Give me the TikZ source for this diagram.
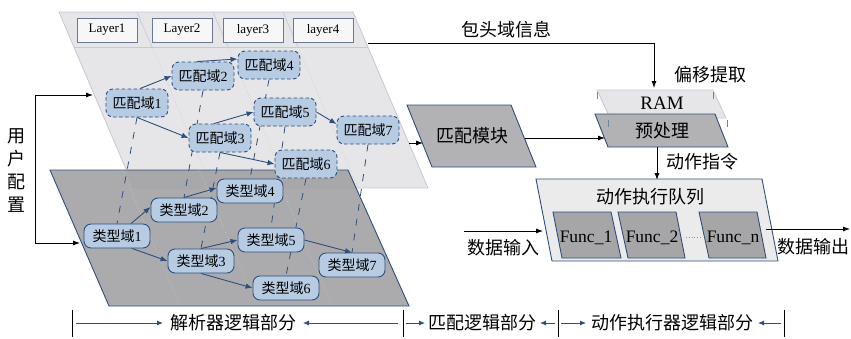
\documentclass[tikz,border=0pt]{standalone}
\usepackage{fontspec}
\setmainfont{Liberation Serif}
\newfontfamily\cjk{Noto Sans CJK SC}
\usetikzlibrary{arrows.meta,calc}
\newcommand\zh[1]{{\cjk #1}}
\definecolor{planeL}{HTML}{E6E6E8}
\definecolor{planeLb}{HTML}{C6C8D6}
\definecolor{planeD}{HTML}{A2A2A4}
\definecolor{bdr}{HTML}{2E4F7E}
\definecolor{nodefill}{HTML}{B7CBE3}
\definecolor{modfill}{HTML}{B2B2B5}
\definecolor{funcfill}{HTML}{A6A6A8}
\definecolor{queuefill}{HTML}{EBEBEB}
\definecolor{layerbdr}{HTML}{6A7895}
\pgfdeclarelayer{bg}
\pgfsetlayers{bg,main}
\begin{document}
\begin{tikzpicture}[x=1pt,y=-1pt,
  lbl/.style={font=\fontsize{18}{22}\selectfont\cjk, inner sep=0pt},
  mnode/.style={draw=bdr, fill=nodefill, rounded corners=7pt, dash pattern=on 3.5pt off 2.5pt, line width=0.9pt, minimum width=62pt, minimum height=28pt, inner sep=0pt, font=\fontsize{14}{16}\selectfont},
  tnode/.style={draw=bdr, fill=nodefill, rounded corners=7pt, line width=0.9pt, minimum width=66pt, minimum height=24pt, inner sep=0pt, font=\fontsize{14}{16}\selectfont},
  layerbox/.style={draw=layerbdr, fill=white!94!gray, line width=0.7pt, minimum width=60pt, minimum height=24pt, inner sep=0pt, font=\fontsize{13}{15}\selectfont},
  flow/.style={draw=bdr, line width=0.9pt, -{Latex[length=7pt,width=5.5pt]}},
  link/.style={draw=bdr, line width=0.8pt, dash pattern=on 7pt off 8pt},
  blk/.style={draw=black, line width=0.8pt, -{Latex[length=7pt,width=5pt]}},
  bflow/.style={draw=bdr, line width=0.8pt, -{Latex[length=6pt,width=5pt]}},
  plain/.style={draw=black, line width=0.8pt},
  divl/.style={draw=planeLb, line width=0.6pt, dotted},
  tick/.style={draw=bdr!70, line width=0.8pt},
  func/.style={font=\fontsize{17.5}{20}\selectfont, inner sep=0pt, anchor=base}
]
\useasboundingbox (0,0) rectangle (851,338);

\begin{pgfonlayer}{bg}
% light plane
\filldraw[fill=planeL, draw=planeLb, line width=0.8pt] (59,12) -- (353,12) -- (428,188) -- (134,188) -- cycle;
\draw[planeLb, line width=0.7pt] (74,47) -- (368,47);
\draw[planeLb, line width=0.6pt] (137,12) -- (152,47);
\draw[planeLb, line width=0.6pt] (213,12) -- (228,47);
\draw[planeLb, line width=0.6pt] (283,12) -- (298,47);
\draw[divl] (152,47) -- (212,188);
\draw[divl] (228,47) -- (288,188);
\draw[divl] (298,47) -- (358,188);
% dark plane
\filldraw[fill=planeD, fill opacity=0.9, draw=bdr, line width=0.9pt] (50,170) -- (348,170) -- (409,306) -- (109,306) -- cycle;
\draw[draw=gray!40, line width=0.6pt, dotted] (122,170) -- (180,306);
\draw[draw=gray!40, line width=0.6pt, dotted] (199,170) -- (257,306);
\draw[draw=gray!40, line width=0.6pt, dotted] (274,170) -- (332,306);
\end{pgfonlayer}

% layer boxes
\node[layerbox] (L1) at (107,30) {Layer1};
\node[layerbox] (L2) at (182,30) {Layer2};
\node[layerbox] (L3) at (253,30) {layer3};
\node[layerbox] (L4) at (323,30) {layer4};

% match nodes
\node[mnode] (m1) at (137,103) {\zh{匹配域}1};
\node[mnode] (m2) at (203,76) {\zh{匹配域}2};
\node[mnode] (m4) at (269,65) {\zh{匹配域}4};
\node[mnode] (m5) at (285,112) {\zh{匹配域}5};
\node[mnode] (m3) at (220,138) {\zh{匹配域}3};
\node[mnode] (m7) at (368,130) {\zh{匹配域}7};
\node[mnode] (m6) at (306,164) {\zh{匹配域}6};

% type nodes
\node[tnode] (t1) at (117,236) {\zh{类型域}1};
\node[tnode] (t2) at (184,210) {\zh{类型域}2};
\node[tnode] (t4) at (250,191) {\zh{类型域}4};
\node[tnode] (t5) at (271,240) {\zh{类型域}5};
\node[tnode] (t3) at (201,261) {\zh{类型域}3};
\node[tnode] (t7) at (352,265) {\zh{类型域}7};
\node[tnode] (t6) at (286,288) {\zh{类型域}6};

\begin{pgfonlayer}{bg}
\foreach \i in {1,...,7} {\draw[link] (m\i.south) -- (t\i.north);}
\end{pgfonlayer}

% match arrows
\draw[flow] ($(m1.north)+(3,0)$) -- (m2.west);
\draw[flow] ($(m2.north)+(-6,0)$) -- ($(m4.west)+(0,-6)$);
\draw[flow] (m1.south) -- (m3.west);
\draw[flow] ($(m3.north)+(-6,0)$) -- (m5.west);
\draw[flow] (m3.south) -- (m6.west);
\draw[flow] (m5.east) -- ($(m7.west)+(0,-6)$);

% type arrows
\draw[flow] ($(t1.north)+(14,0)$) -- ($(t2.west)+(0,-3)$);
\draw[flow] (t2.north) -- ($(t4.west)+(0,-3)$);
\draw[flow] ($(t1.south)+(15,0)$) -- (t3.west);
\draw[flow] (t3.north) -- (t5.west);
\draw[flow] (t3.south) -- (t6.west);
\draw[flow] (t5.east) -- (t7.north);

% user config
\node[lbl, align=center, font=\fontsize{18}{23}\selectfont\cjk] (user) at (17,171) {用\\户\\配\\置};
\coordinate (ua) at (35,95);
\coordinate (ub) at (35,243);
\coordinate (uaE) at (93,95);
\coordinate (ubE) at (80,243);
\draw[plain] (ua) -- (ub);
\draw[blk] (ua) -- (uaE);
\draw[blk] (ub) -- (ubE);

% match module
\filldraw[fill=modfill, draw=bdr, line width=0.9pt] (407,105) -- (511,105) -- (536,167) -- (432,167) -- cycle;
\node[lbl] (mod) at (472,136) {匹配模块};
\coordinate (planeR) at (409,143);
\coordinate (modL) at (423,143);
\draw[blk] (planeR) -- (modL);

% header info line
\coordinate (hdr) at (368,43);
\coordinate (hdrC) at (654,43);
\coordinate (ramT) at (654,88);
\draw[blk] (hdr) -- (hdrC) -- (ramT);
\node[lbl] (hinfo) at (506,30) {包头域信息};
\node[lbl] (offs) at (710,75) {偏移提取};

% RAM and preprocess
\filldraw[fill=planeL, draw=planeLb, line width=0.8pt] (597,90) -- (713,90) -- (726,118) -- (610,118) -- cycle;
\node[font=\fontsize{19}{22}\selectfont, inner sep=0pt] (ram) at (662,103) {RAM};
\filldraw[fill=modfill, draw=bdr, line width=0.9pt] (595,114) -- (715,114) -- (728,147) -- (608,147) -- cycle;
\node[lbl] (pre) at (662,131) {预处理};
\draw[tick] (597,92) -- (597,99);
\draw[tick] (713,92) -- (713,99);
\draw[tick] (608,120) -- (608,127);
\draw[tick] (727,120) -- (727,127);
\coordinate (modR) at (525,138);
\coordinate (preL) at (605,138);
\draw[blk] (modR) -- (preL);

% action instruction
\coordinate (preB) at (657,147);
\coordinate (qT) at (657,180);
\draw[blk] (preB) -- (qT);
\node[lbl] (act) at (702,162) {动作指令};

% action queue
\filldraw[fill=queuefill, draw=bdr, line width=0.9pt] (536,179) -- (762,179) -- (778,261) -- (552,261) -- cycle;
\node[lbl] (queue) at (650,197) {动作执行队列};
\filldraw[fill=funcfill, draw=bdr, line width=0.9pt] (553,212) -- (611,212) -- (621,258) -- (562,258) -- cycle;
\filldraw[fill=funcfill, draw=bdr, line width=0.9pt] (618,212) -- (676,212) -- (685,258) -- (628,258) -- cycle;
\filldraw[fill=funcfill, draw=bdr, line width=0.9pt] (699,212) -- (757,212) -- (766,258) -- (709,258) -- cycle;
\node[func] (f1) at (586,242) {Func\_1};
\node[func] (f2) at (652,242) {Func\_2};
\node[func] (fn) at (733,242) {Func\_n};
\coordinate (dotA) at (686,237);
\coordinate (dotB) at (701,237);
\draw[bdr!60, line width=0.8pt, dotted] (dotA) -- (dotB);

% data in/out
\coordinate (inA) at (464,231);
\coordinate (inB) at (543,231);
\draw[blk] (inA) -- (inB);
\node[lbl] (din) at (503,248) {数据输入};
\coordinate (outA) at (766,229);
\coordinate (outB) at (850,229);
\draw[blk] (outA) -- (outB);
\node[lbl] (dout) at (813,247) {数据输出};

% bottom legend
\coordinate (b1t) at (72,310); \coordinate (b1b) at (72,337);
\coordinate (b2t) at (403,310); \coordinate (b2b) at (403,337);
\coordinate (b3t) at (558,310); \coordinate (b3b) at (558,337);
\coordinate (b4t) at (784,310); \coordinate (b4b) at (784,337);
\draw[plain] (b1t) -- (b1b);
\draw[plain] (b2t) -- (b2b);
\draw[plain] (b3t) -- (b3b);
\draw[plain] (b4t) -- (b4b);
\node[lbl] (sec1) at (233,323) {解析器逻辑部分};
\node[lbl] (sec2) at (482,323) {匹配逻辑部分};
\node[lbl] (sec3) at (672,323) {动作执行器逻辑部分};
\coordinate (a1) at (76,323); \coordinate (a1e) at (163,323);
\coordinate (a2) at (398,323); \coordinate (a2e) at (303,323);
\coordinate (a3) at (406,323); \coordinate (a3e) at (425,323);
\coordinate (a4) at (555,323); \coordinate (a4e) at (540,323);
\coordinate (a5) at (561,323); \coordinate (a5e) at (586,323);
\coordinate (a6) at (781,323); \coordinate (a6e) at (758,323);
\draw[bflow] (a1) -- (a1e);
\draw[bflow] (a2) -- (a2e);
\draw[bflow] (a3) -- (a3e);
\draw[bflow] (a4) -- (a4e);
\draw[bflow] (a5) -- (a5e);
\draw[bflow] (a6) -- (a6e);
\end{tikzpicture}
\end{document}
